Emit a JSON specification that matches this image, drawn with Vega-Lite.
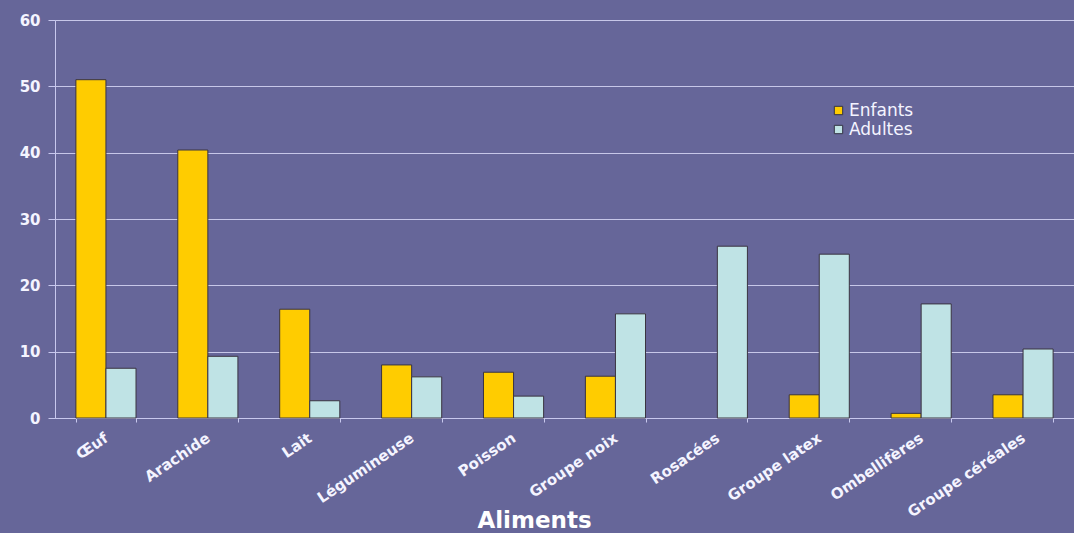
{
  "$schema": "https://vega.github.io/schema/vega-lite/v6.json",
  "width": 1019,
  "height": 398,
  "autosize": {"type": "none"},
  "padding": {"left": 55, "top": 20, "right": 0, "bottom": 115},
  "background": "#666699",
  "data": {
    "values": [
      {"aliment": "Œuf", "groupe": "Enfants", "valeur": 51},
      {"aliment": "Œuf", "groupe": "Adultes", "valeur": 7.5},
      {"aliment": "Arachide", "groupe": "Enfants", "valeur": 40.4},
      {"aliment": "Arachide", "groupe": "Adultes", "valeur": 9.3},
      {"aliment": "Lait", "groupe": "Enfants", "valeur": 16.4},
      {"aliment": "Lait", "groupe": "Adultes", "valeur": 2.6},
      {"aliment": "Légumineuse", "groupe": "Enfants", "valeur": 8},
      {"aliment": "Légumineuse", "groupe": "Adultes", "valeur": 6.2},
      {"aliment": "Poisson", "groupe": "Enfants", "valeur": 6.9},
      {"aliment": "Poisson", "groupe": "Adultes", "valeur": 3.3},
      {"aliment": "Groupe noix", "groupe": "Enfants", "valeur": 6.3},
      {"aliment": "Groupe noix", "groupe": "Adultes", "valeur": 15.7},
      {"aliment": "Rosacées", "groupe": "Enfants", "valeur": 0},
      {"aliment": "Rosacées", "groupe": "Adultes", "valeur": 25.9},
      {"aliment": "Groupe latex", "groupe": "Enfants", "valeur": 3.5},
      {"aliment": "Groupe latex", "groupe": "Adultes", "valeur": 24.7},
      {"aliment": "Ombellifères", "groupe": "Enfants", "valeur": 0.7},
      {"aliment": "Ombellifères", "groupe": "Adultes", "valeur": 17.2},
      {"aliment": "Groupe céréales", "groupe": "Enfants", "valeur": 3.5},
      {"aliment": "Groupe céréales", "groupe": "Adultes", "valeur": 10.4}
    ]
  },
  "mark": {"type": "bar", "stroke": "#3a3440"},
  "encoding": {
    "x": {
      "field": "aliment",
      "type": "nominal",
      "sort": null,
      "scale": {"paddingInner": 0.41, "paddingOuter": 0.205},
      "axis": {
        "title": "Aliments",
        "titleX": 479,
        "titleY": 109,
        "titleAlign": "center",
        "titleBaseline": "alphabetic",
        "titleFontSize": 23,
        "titleFontWeight": "bold",
        "titleColor": "#ffffff",
        "labelAngle": -34,
        "labelAlign": "right",
        "labelBaseline": "middle",
        "labelPadding": 14,
        "labelFontSize": 15,
        "labelFontWeight": "bold",
        "labelColor": "#f4f4ff",
        "domainColor": "#c8c8ee",
        "tickColor": "#c8c8ee",
        "tickBand": "extent",
        "tickSize": 4,
        "grid": false
      }
    },
    "xOffset": {"field": "groupe", "type": "nominal", "sort": ["Enfants", "Adultes"], "scale": {"paddingInner": 0, "paddingOuter": 0}},
    "y": {
      "field": "valeur",
      "type": "quantitative",
      "scale": {"domain": [0, 60], "nice": false},
      "axis": {
        "title": null,
        "values": [0, 10, 20, 30, 40, 50, 60],
        "labelFontSize": 15,
        "labelFontWeight": "bold",
        "labelColor": "#f4f4ff",
        "labelPadding": 8,
        "tickSize": 7,
        "tickColor": "#c8c8ee",
        "domainColor": "#c8c8ee",
        "gridColor": "#d8d8f6",
        "gridWidth": 1,
        "gridOpacity": 0.85
      }
    },
    "color": {
      "field": "groupe",
      "type": "nominal",
      "scale": {"domain": ["Enfants", "Adultes"], "range": ["#ffcc00", "#bfe3e5"]},
      "legend": {
        "title": null,
        "orient": "none",
        "legendX": 775,
        "legendY": 82,
        "symbolType": "square",
        "symbolSize": 70,
        "symbolStrokeColor": "#333344",
        "symbolStrokeWidth": 1,
        "labelFontSize": 17,
        "labelColor": "#f4f4ff",
        "labelOffset": 2,
        "rowPadding": 1
      }
    },
    "strokeWidth": {
      "condition": {"test": "datum.valeur === 0", "value": 0},
      "value": 1
    }
  },
  "config": {
    "font": "DejaVu Sans",
    "view": {"stroke": null}
  }
}
